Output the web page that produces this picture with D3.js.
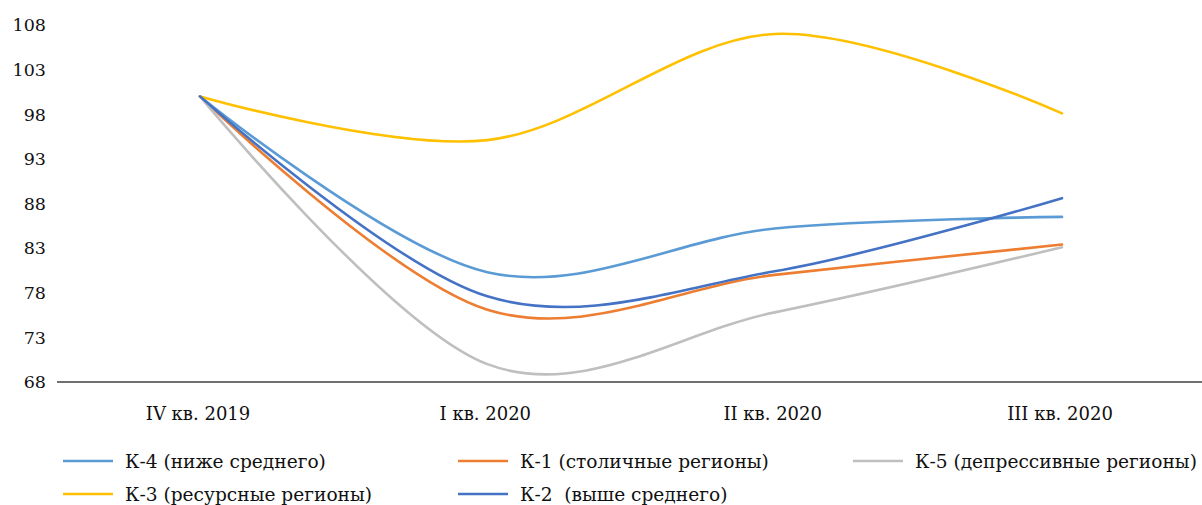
<!DOCTYPE html>
<html>
<head>
<meta charset="utf-8">
<script src="https://cdn.jsdelivr.net/npm/d3@7"></script>
<style>
  body { margin: 0; background: #fff; }
  svg { display: block; font-family: "DejaVu Serif", serif; }
</style>
</head>
<body>
<div id="chart"></div>
<script>
// Data
const quarters = ["IV кв. 2019", "I кв. 2020", "II кв. 2020", "III кв. 2020"];
const yTicks = [68, 73, 78, 83, 88, 93, 98, 103, 108];

const seriesNames = [
  "К-4 (ниже среднего)",
  "К-1 (столичные регионы)",
  "К-5 (депрессивные регионы)",
  "К-3 (ресурсные регионы)",
  "К-2  (выше среднего)",
];
const seriesColors = ["#5B9BD5", "#ED7D31", "#BFBFBF", "#FFC000", "#4472C4"];

const k4 = [100, 80.3, 85.2, 86.5];
const k1 = [100, 76.1, 80.0, 83.4];
const k5 = [100, 70.0, 75.8, 83.1];
const k3 = [100, 95.1, 107.0, 98.1];
const k2 = [100, 77.6, 80.4, 88.6];
const seriesValues = [k4, k1, k5, k3, k2];

const width = 1202, height = 505;

const svg = d3.select("#chart").append("svg")
  .attr("width", width)
  .attr("height", height);

const x = d3.scalePoint().domain(quarters).range([200, 1062]);
const y = d3.scaleLinear().domain([68, 108]).range([382, 25]);

// y tick labels (no gridlines)
svg.append("g")
  .selectAll("text")
  .data(yTicks)
  .enter()
  .append("text")
  .attr("x", 46)
  .attr("y", (d) => y(d))
  .attr("dy", "0.36em")
  .attr("text-anchor", "end")
  .style("font-size", "17.5px")
  .attr("fill", "#111")
  .text((d) => d);

// baseline
svg.append("line")
  .attr("x1", 57).attr("x2", width)
  .attr("y1", y(68)).attr("y2", y(68))
  .attr("stroke", "#404040")
  .attr("stroke-width", 1.3);

// category labels
svg.append("g")
  .selectAll("text")
  .data(quarters)
  .enter()
  .append("text")
  .attr("x", (d) => x(d) - 2)
  .attr("y", 414)
  .attr("dy", "0.35em")
  .attr("text-anchor", "middle")
  .style("font-size", "18px")
  .attr("fill", "#111")
  .text((d) => d);

// smoothed lines
const line = d3.line()
  .x((d, i) => x(quarters[i]))
  .y((d) => y(d))
  .curve(d3.curveCardinal.tension(0));

svg.append("g")
  .selectAll("path")
  .data(seriesValues)
  .enter()
  .append("path")
  .attr("d", (d) => line(d))
  .attr("fill", "none")
  .attr("stroke", (d, i) => seriesColors[i])
  .attr("stroke-width", 2.6)
  .attr("stroke-linecap", "round");

// legend
const legend = svg.append("g")
  .selectAll("g")
  .data(seriesNames)
  .enter()
  .append("g")
  .attr("transform", (d, i) => `translate(${63 + (i % 3) * 395},${461 + Math.floor(i / 3) * 33})`);

legend.append("line")
  .attr("x1", 0).attr("x2", 50)
  .attr("y1", 0).attr("y2", 0)
  .attr("stroke", (d, i) => seriesColors[i])
  .attr("stroke-width", 2.6);

legend.append("text")
  .attr("x", 62)
  .attr("y", 0)
  .attr("dy", "0.35em")
  .style("font-size", "18.6px")
  .attr("fill", "#111")
  .style("white-space", "pre")
  .text((d) => d);
</script>
</body>
</html>
